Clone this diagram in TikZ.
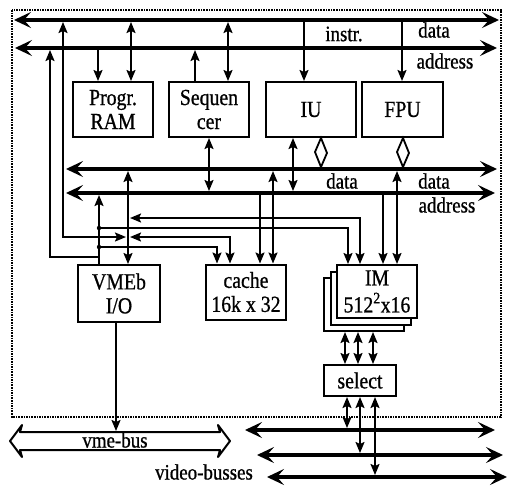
\documentclass[tikz,border=0pt]{standalone}
\usepackage{fontspec}
\setmainfont[FakeStretch=0.86, FakeBold=0.8]{Liberation Serif}
\usetikzlibrary{arrows.meta}

\begin{document}
\begin{tikzpicture}[x=1pt, y=-1pt,
    unit/.style={draw, line width=2pt, fill=white, inner sep=0pt,
        minimum width=80pt, minimum height=55pt, align=center,
        font=\fontsize{23}{24}\selectfont},
    lbl/.style={inner sep=0pt, font=\fontsize{22}{24}\selectfont},
    bus/.style={{Stealth[length=17pt, width=16pt, inset=7pt]}-{Stealth[length=17pt, width=16pt, inset=7pt]},
        line width=4pt},
    wire/.style={line width=1.8pt},
    arr/.style={wire, -{Stealth[length=11pt, width=9pt, inset=2pt]}},
    rarr/.style={wire, {Stealth[length=11pt, width=9pt, inset=2pt]}-},
    darr/.style={wire, {Stealth[length=11pt, width=9pt, inset=2pt]}-{Stealth[length=11pt, width=9pt, inset=2pt]}},
    twin/.style={line width=1.8pt, fill=white},
]
\useasboundingbox (0,0) rectangle (508,485);

% ===== Board outline =====
\draw[densely dotted, line width=1.6pt] (12,10) rectangle (501,417);

% ===== Buses =====
\coordinate (tdW) at (14,20);  \coordinate (tdE) at (499,20);
\coordinate (taW) at (15,48);  \coordinate (taE) at (497,48);
\coordinate (mdW) at (66,169); \coordinate (mdE) at (497,169);
\coordinate (maW) at (66,193); \coordinate (maE) at (495,193);
\coordinate (v1W) at (245,430); \coordinate (v1E) at (495,430);
\coordinate (v2W) at (257,455); \coordinate (v2E) at (503,455);
\coordinate (v3W) at (267,477); \coordinate (v3E) at (507,477);

\draw[bus] (tdW) -- (tdE);
\draw[bus] (taW) -- (taE);
\draw[bus] (mdW) -- (mdE);
\draw[bus] (maW) -- (maE);
\draw[bus] (v1W) -- (v1E);
\draw[bus] (v2W) -- (v2E);
\draw[bus] (v3W) -- (v3E);

\node[lbl] (instr) at (344,34) {instr.};
\node[lbl] (tdata) at (434,30) {data};
\node[lbl] (taddr) at (445,61) {address};
\node[lbl] (mdata) at (342,181) {data};
\node[lbl] (mdata2) at (434,181) {data};
\node[lbl] (maddr) at (447,205) {address};
\node[lbl] (video) at (204,472) {video-busses};

% ===== Units =====
\node[unit] (prog) at (113,109.5) {Progr.\\RAM};
\node[unit] (seq) at (209,109.5) {Sequen\\cer};
\node[unit, minimum width=90pt] (iu) at (311,109.5) {IU};
\node[unit, minimum width=81pt] (fpu) at (402.5,109.5) {FPU};
\node[unit, minimum width=82pt, minimum height=57pt] (vme) at (119,293.5) {VMEb\\I/O};
\node[unit] (cache) at (246,292) {cache\\16k x 32};
\node[unit, minimum height=53pt] (im3) at (364,304.5) {};
\node[unit, minimum height=53pt] (im2) at (370.5,298) {};
\node[unit, minimum height=53pt] (im) at (377,291.5) {IM\\[3pt]512\textsuperscript{2}x16};
\node[unit, minimum width=72pt, minimum height=31pt] (sel) at (360,380.5) {select};

% ===== Top bus taps =====
\coordinate (pa) at (98,50);   \coordinate (pd) at (131,22);
\coordinate (sa) at (195,50);  \coordinate (sd) at (228,22);
\coordinate (ui) at (304,22);  \coordinate (fi) at (402,22);
\coordinate (ld) at (63,22);   \coordinate (la) at (50,50);

\draw[arr] (pa) -- (pa |- prog.north);
\draw[darr] (pd) -- (pd |- prog.north);
\draw[arr] (sa |- seq.north) -- (sa);
\draw[darr] (sd) -- (sd |- seq.north);
\draw[arr] (ui) -- (ui |- iu.north);
\draw[arr] (fi) -- (fi |- fpu.north);

% left risers to the VMEb lines
\coordinate (vx) at (126,237);
\coordinate (vy) at (99,257);
\draw[darr] (ld) |- (vx);
\draw[rarr] (la) |- (vy);

% ===== Middle bus taps =====
\coordinate (sq) at (209,191);
\coordinate (ua) at (293,191);
\coordinate (ud) at (321,167);
\coordinate (fd) at (403,167);
\coordinate (va) at (99,195);
\coordinate (vd) at (128,171);
\coordinate (ca) at (260,195);
\coordinate (cd) at (273,171);
\coordinate (ia) at (383,195);
\coordinate (id) at (397,171);

\draw[darr] (sq |- seq.south) -- (sq);
\draw[darr] (ua |- iu.south) -- (ua);
\draw[twin] (ud |- iu.south) -- ++(6,15) -- (ud) -- ++(-6,-15) -- cycle;
\draw[twin] (fd |- fpu.south) -- ++(6,15) -- (fd) -- ++(-6,-15) -- cycle;
\draw[arr] (va |- vme.north) -- (va);
\draw[darr] (vd |- vme.north) -- (vd);
\draw[arr] (ca) -- (ca |- cache.north);
\draw[darr] (cd) -- (cd |- cache.north);
\draw[arr] (ia) -- (ia |- im.north);
\draw[darr] (id) -- (id |- im.north);

% side lines from VMEb to cache and IM
\coordinate (x1) at (130,218); \coordinate (i1) at (360,0);
\coordinate (x2) at (99,228);  \coordinate (i2) at (348,0);
\coordinate (x3) at (130,237); \coordinate (c2) at (230,0);
\coordinate (x4) at (99,247);  \coordinate (c1) at (217,0);

\draw[darr] (x1) -| (i1 |- im.north);
\draw[arr] (x2) -| (i2 |- im.north);
\draw[darr] (x3) -| (c2 |- cache.north);
\draw[arr] (x4) -| (c1 |- cache.north);
\fill (x2) circle (2.2pt);
\fill (x4) circle (2.2pt);

% ===== IM stack to select to video busses =====
\coordinate (m1) at (345,0); \coordinate (m2) at (358,0); \coordinate (m3) at (373,0);
\draw[darr] (m1 |- im3.south) -- (m1 |- sel.north);
\draw[darr] (m2 |- im3.south) -- (m2 |- sel.north);
\draw[darr] (m3 |- im3.south) -- (m3 |- sel.north);

\coordinate (o1) at (347,428); \coordinate (o2) at (360,453); \coordinate (o3) at (375,475);
\draw[darr] (o1 |- sel.south) -- (o1);
\draw[darr] (o2 |- sel.south) -- (o2);
\draw[darr] (o3 |- sel.south) -- (o3);

% ===== vme-bus =====
\draw[line width=2pt, line join=round] (10,441) -- (22,425) -- (20,432) -- (220,432) -- (218,425)
  -- (230,441) -- (218,457) -- (220,450) -- (20,450) -- (22,457) -- cycle;
\node[lbl] (vmebus) at (115,440) {vme-bus};
\coordinate (vb) at (116,431);
\draw[arr] (vb |- vme.south) -- (vb);

\end{tikzpicture}
\end{document}
